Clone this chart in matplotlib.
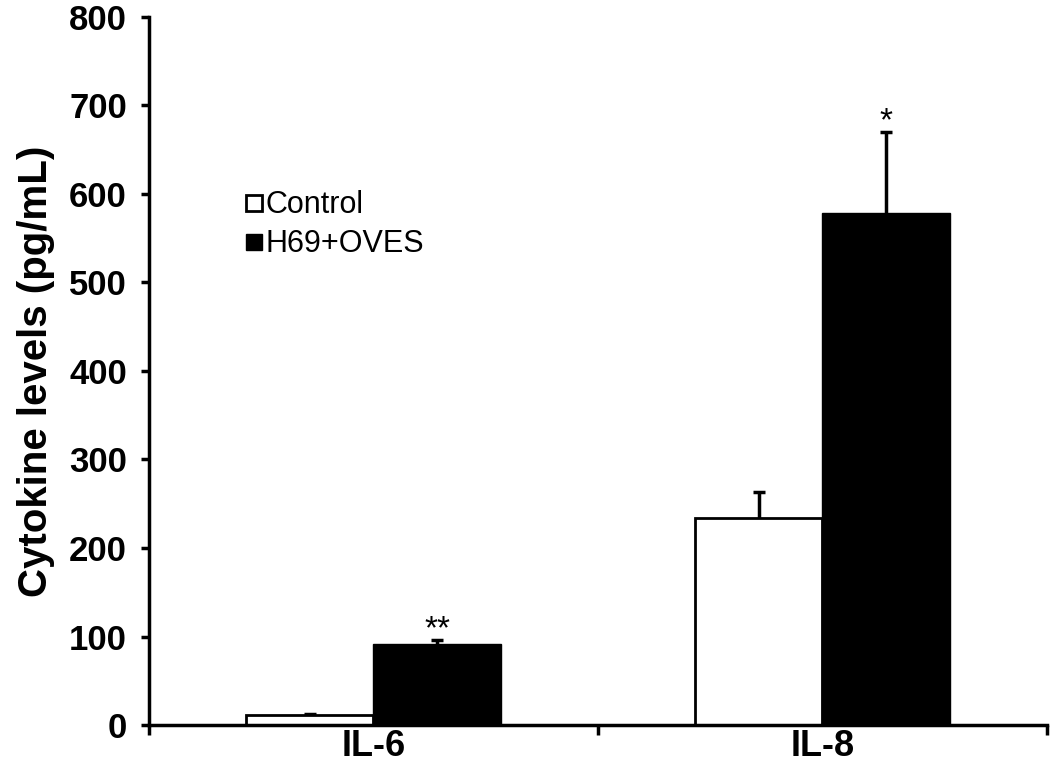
import matplotlib
matplotlib.use("Agg")
import matplotlib.pyplot as plt
from matplotlib.lines import Line2D
import numpy as np

categories = ["IL-6", "IL-8"]
control = [11, 234]
control_err = [2, 29]
treated = [92, 578]
treated_err = [4, 92]
series_names = ["Control", "H69+OVES"]
signif = ["**", "*"]
yticks = [0, 100, 200, 300, 400, 500, 600, 700, 800]

plt.rcParams['font.family'] = ['Liberation Sans', 'DejaVu Sans']

fig = plt.figure(figsize=(10.5, 7.64), dpi=100)
ax = fig.add_axes([0.1419, 0.051, 0.8551, 0.927])

centers = np.arange(len(categories)) + 0.5
w = 0.284
ax.bar(centers - w / 2, control, width=w, color="white", edgecolor="black",
       linewidth=2, zorder=2)
ax.bar(centers + w / 2, treated, width=w, color="black", edgecolor="black",
       linewidth=1, zorder=2)
for xs, vals, errs in [(centers - w / 2, control, control_err),
                       (centers + w / 2, treated, treated_err)]:
    _, caps, _ = ax.errorbar(xs, vals, yerr=[np.zeros(len(vals)), errs], fmt="none",
                             ecolor="black", elinewidth=2.5, capsize=4, capthick=2.5,
                             zorder=1)
    caps[0].set_visible(False)

for c, v, e, s in zip(centers, treated, treated_err, signif):
    ax.text(c + w / 2, v + e - 6, s, ha="center", va="bottom", fontsize=24)

ax.set_xlim(0, 2)
ax.set_ylim(0, 800)
ax.set_yticks(yticks)
ax.set_yticklabels([str(t) for t in yticks], fontsize=25, fontweight="bold")
ax.set_xticks([0, 1, 2])
ax.set_xticklabels([])
ax.set_xticks(centers, minor=True)
ax.set_xticklabels(categories, minor=True, fontsize=26, fontweight="bold")
ax.tick_params(axis="x", which="minor", length=0, pad=3)
ax.tick_params(axis="x", which="major", direction="out", length=7, width=2.5)
ax.tick_params(axis="y", direction="out", length=6, width=2.5, pad=10)

ax.set_ylabel("Cytokine levels (pg/mL)", fontsize=29, fontweight="bold", labelpad=10)

for side in ["top", "right"]:
    ax.spines[side].set_visible(False)
for side in ["left", "bottom"]:
    ax.spines[side].set_linewidth(2.5)

handles = [
    Line2D([], [], marker="s", linestyle="none", markersize=11,
           markerfacecolor="white", markeredgecolor="black", markeredgewidth=2),
    Line2D([], [], marker="s", linestyle="none", markersize=11,
           markerfacecolor="black", markeredgecolor="black"),
]
fig.legend(handles, series_names, loc="upper left", bbox_to_anchor=(0.219, 0.771),
           frameon=False, fontsize=22, handlelength=0.6, handletextpad=0.05,
           labelspacing=0.3, borderpad=0)

fig.savefig("out.png", dpi=100)
